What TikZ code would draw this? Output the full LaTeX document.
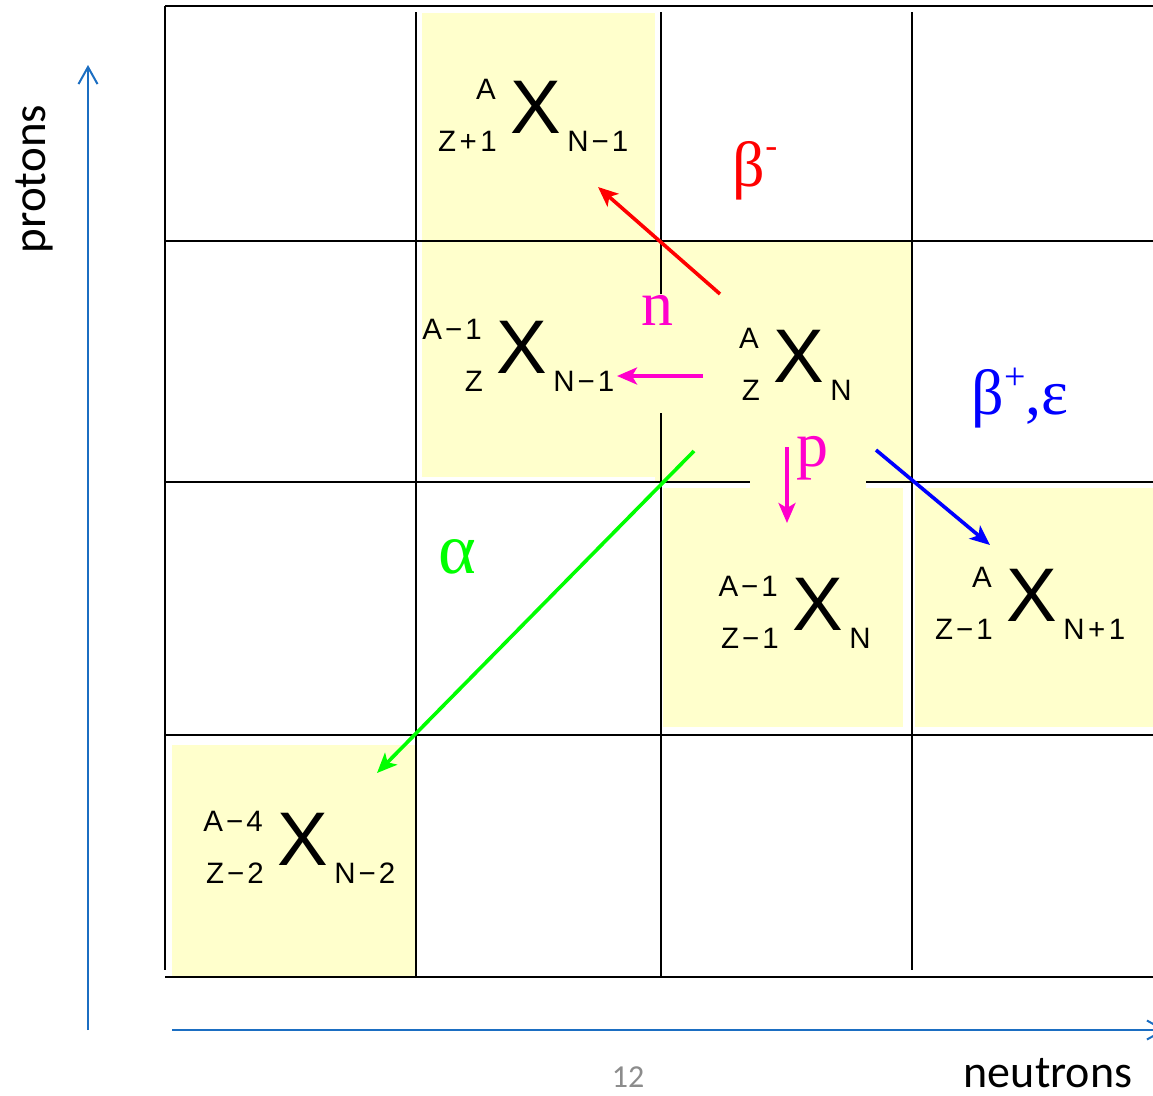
\documentclass[tikz,border=0pt]{standalone}
\usepackage{fontspec}
\setmainfont{Liberation Sans}
\newfontfamily\serifgr{Liberation Serif}
\newfontfamily\calib{Carlito}
\usetikzlibrary{arrows.meta}
\definecolor{cellyellow}{HTML}{FFFFCC}
\definecolor{axisblue}{HTML}{1B6EC2}
\definecolor{decred}{HTML}{FF0000}
\definecolor{decmag}{HTML}{FF00CC}
\definecolor{decgreen}{HTML}{00FF00}
\definecolor{decblue}{HTML}{0000FF}
\definecolor{pagegray}{HTML}{8C8C8C}
\newcommand\mn{\kern3pt−\kern3pt}
\newcommand\pl{\kern3.5pt+\kern3.5pt}
\newcommand\Nuc[5]{%
  \node[bigX, anchor=base west] (#1) at (#2) {X};
  \node[scr, anchor=base east] (#1-a) at ([shift={(-14,-34)}]#1.base west) {#3};
  \node[scr, anchor=base east] (#1-z) at ([shift={(-13,18)}]#1.base west) {#4};
  \node[scr, anchor=base west] (#1-n) at ([shift={(6,18)}]#1.base east) {#5};
}
\begin{document}
\begin{tikzpicture}[x=1pt,y=-1pt,
  gridline/.style={line width=2.8pt, black},
  cell/.style={fill=cellyellow, draw=none},
  bigX/.style={inner sep=0pt, font=\fontsize{76}{80}\selectfont},
  scr/.style={inner sep=0pt, font=\fontsize{29.5}{32}\selectfont},
  decay/.style={line width=3.6pt, -{Stealth[length=20pt,width=17pt,inset=5pt]}},
  glabel/.style={inner sep=0pt},
  axis/.style={line width=2pt, axisblue, -{Straight Barb[length=17pt,width=19pt]}},
]
\useasboundingbox (0,0) rectangle (1153,1095);
\fill[white] (0,0) rectangle (1153,1095);

% yellow cells
\fill[cell] (422,13) rectangle (655,243);
\fill[cell] (422,241) rectangle (655,477);
\fill[cell] (655,241) rectangle (912,482);
\fill[cell] (750,478) rectangle (866,490);
\fill[cell] (663,488) rectangle (903,727);
\fill[cell] (915,488) rectangle (1153,727);
\fill[cell] (172,745) rectangle (415,977);

% grid
\draw[gridline] (165,6) -- (1153,6);
\draw[gridline] (165,241) -- (1153,241);
\draw[gridline] (165,482) -- (750,482);
\draw[gridline] (866,482) -- (1153,482);
\draw[gridline] (165,735) -- (1153,735);
\draw[gridline] (165,977) -- (1153,977);
\draw[gridline] (165,6) -- (165,970);
\draw[gridline] (416,12) -- (416,977);
\draw[gridline] (661,12) -- (661,294);
\draw[gridline] (661,413) -- (661,977);
\draw[gridline] (912,12) -- (912,970);

% nuclides
\Nuc{top}{510,133}{A}{Z\pl 1}{N\mn 1}
\Nuc{ctr}{773,382}{A}{Z}{N}
\Nuc{ncell}{496,373}{A\mn 1}{Z}{N\mn 1}
\Nuc{pcell}{792,630}{A\mn 1}{Z\mn 1}{N}
\Nuc{bcell}{1006,621}{A}{Z\mn 1}{N\pl 1}
\Nuc{acell}{277,865}{A\mn 4}{Z\mn 2}{N\mn 2}

% decay arrows
\coordinate (redS) at (720,294);   \coordinate (redE) at (598,187);
\coordinate (nS) at (703,376);     \coordinate (nE) at (617,376);
\coordinate (pS) at (787,447);     \coordinate (pE) at (787,523);
\coordinate (blS) at (876,450);    \coordinate (blE) at (990,545);
\coordinate (grS) at (694,451);    \coordinate (grE) at (377,773);
\draw[decay, decred] (redS) -- (redE);
\draw[decay, decmag] (nS) -- (nE);
\draw[decay, decmag] (pS) -- (pE);
\draw[decay, decblue] (blS) -- (blE);
\draw[decay, decgreen] (grS) -- (grE);

% decay labels
\node[glabel, text=decred, font=\serifgr\fontsize{64}{70}\selectfont] (lbm) at (755,171) {β\raisebox{0.45em}{\fontsize{36}{36}\selectfont -}};
\node[glabel, text=decmag, font=\serifgr\fontsize{64}{70}\selectfont] (ln) at (657,310) {n};
\node[glabel, text=decmag, font=\serifgr\fontsize{64}{70}\selectfont] (lp) at (812,458) {p};
\node[glabel, text=decgreen, font=\serifgr\fontsize{72}{78}\selectfont] (la) at (457,557) {α};
\node[glabel, text=decblue, font=\serifgr\fontsize{64}{70}\selectfont] (lbp) at (1020,398) {β\raisebox{0.4em}{\fontsize{38}{38}\selectfont +},ε};

% axes
\coordinate (yS) at (88,1030); \coordinate (yE) at (88,65);
\coordinate (xS) at (172,1030); \coordinate (xE) at (1166,1030);
\draw[axis] (yS) -- (yE);
\draw[axis] (xS) -- (xE);
\node[inner sep=0pt, rotate=90, font=\calib\fontsize{47}{50}\selectfont] (protons) at (34,179) {protons};
\node[inner sep=0pt, font=\calib\fontsize{46}{50}\selectfont] (neutrons) at (1048,1073) {neutrons};
\node[inner sep=0pt, text=pagegray, font=\calib\fontsize{32}{34}\selectfont] (pageno) at (628,1077) {12};
\end{tikzpicture}
\end{document}
